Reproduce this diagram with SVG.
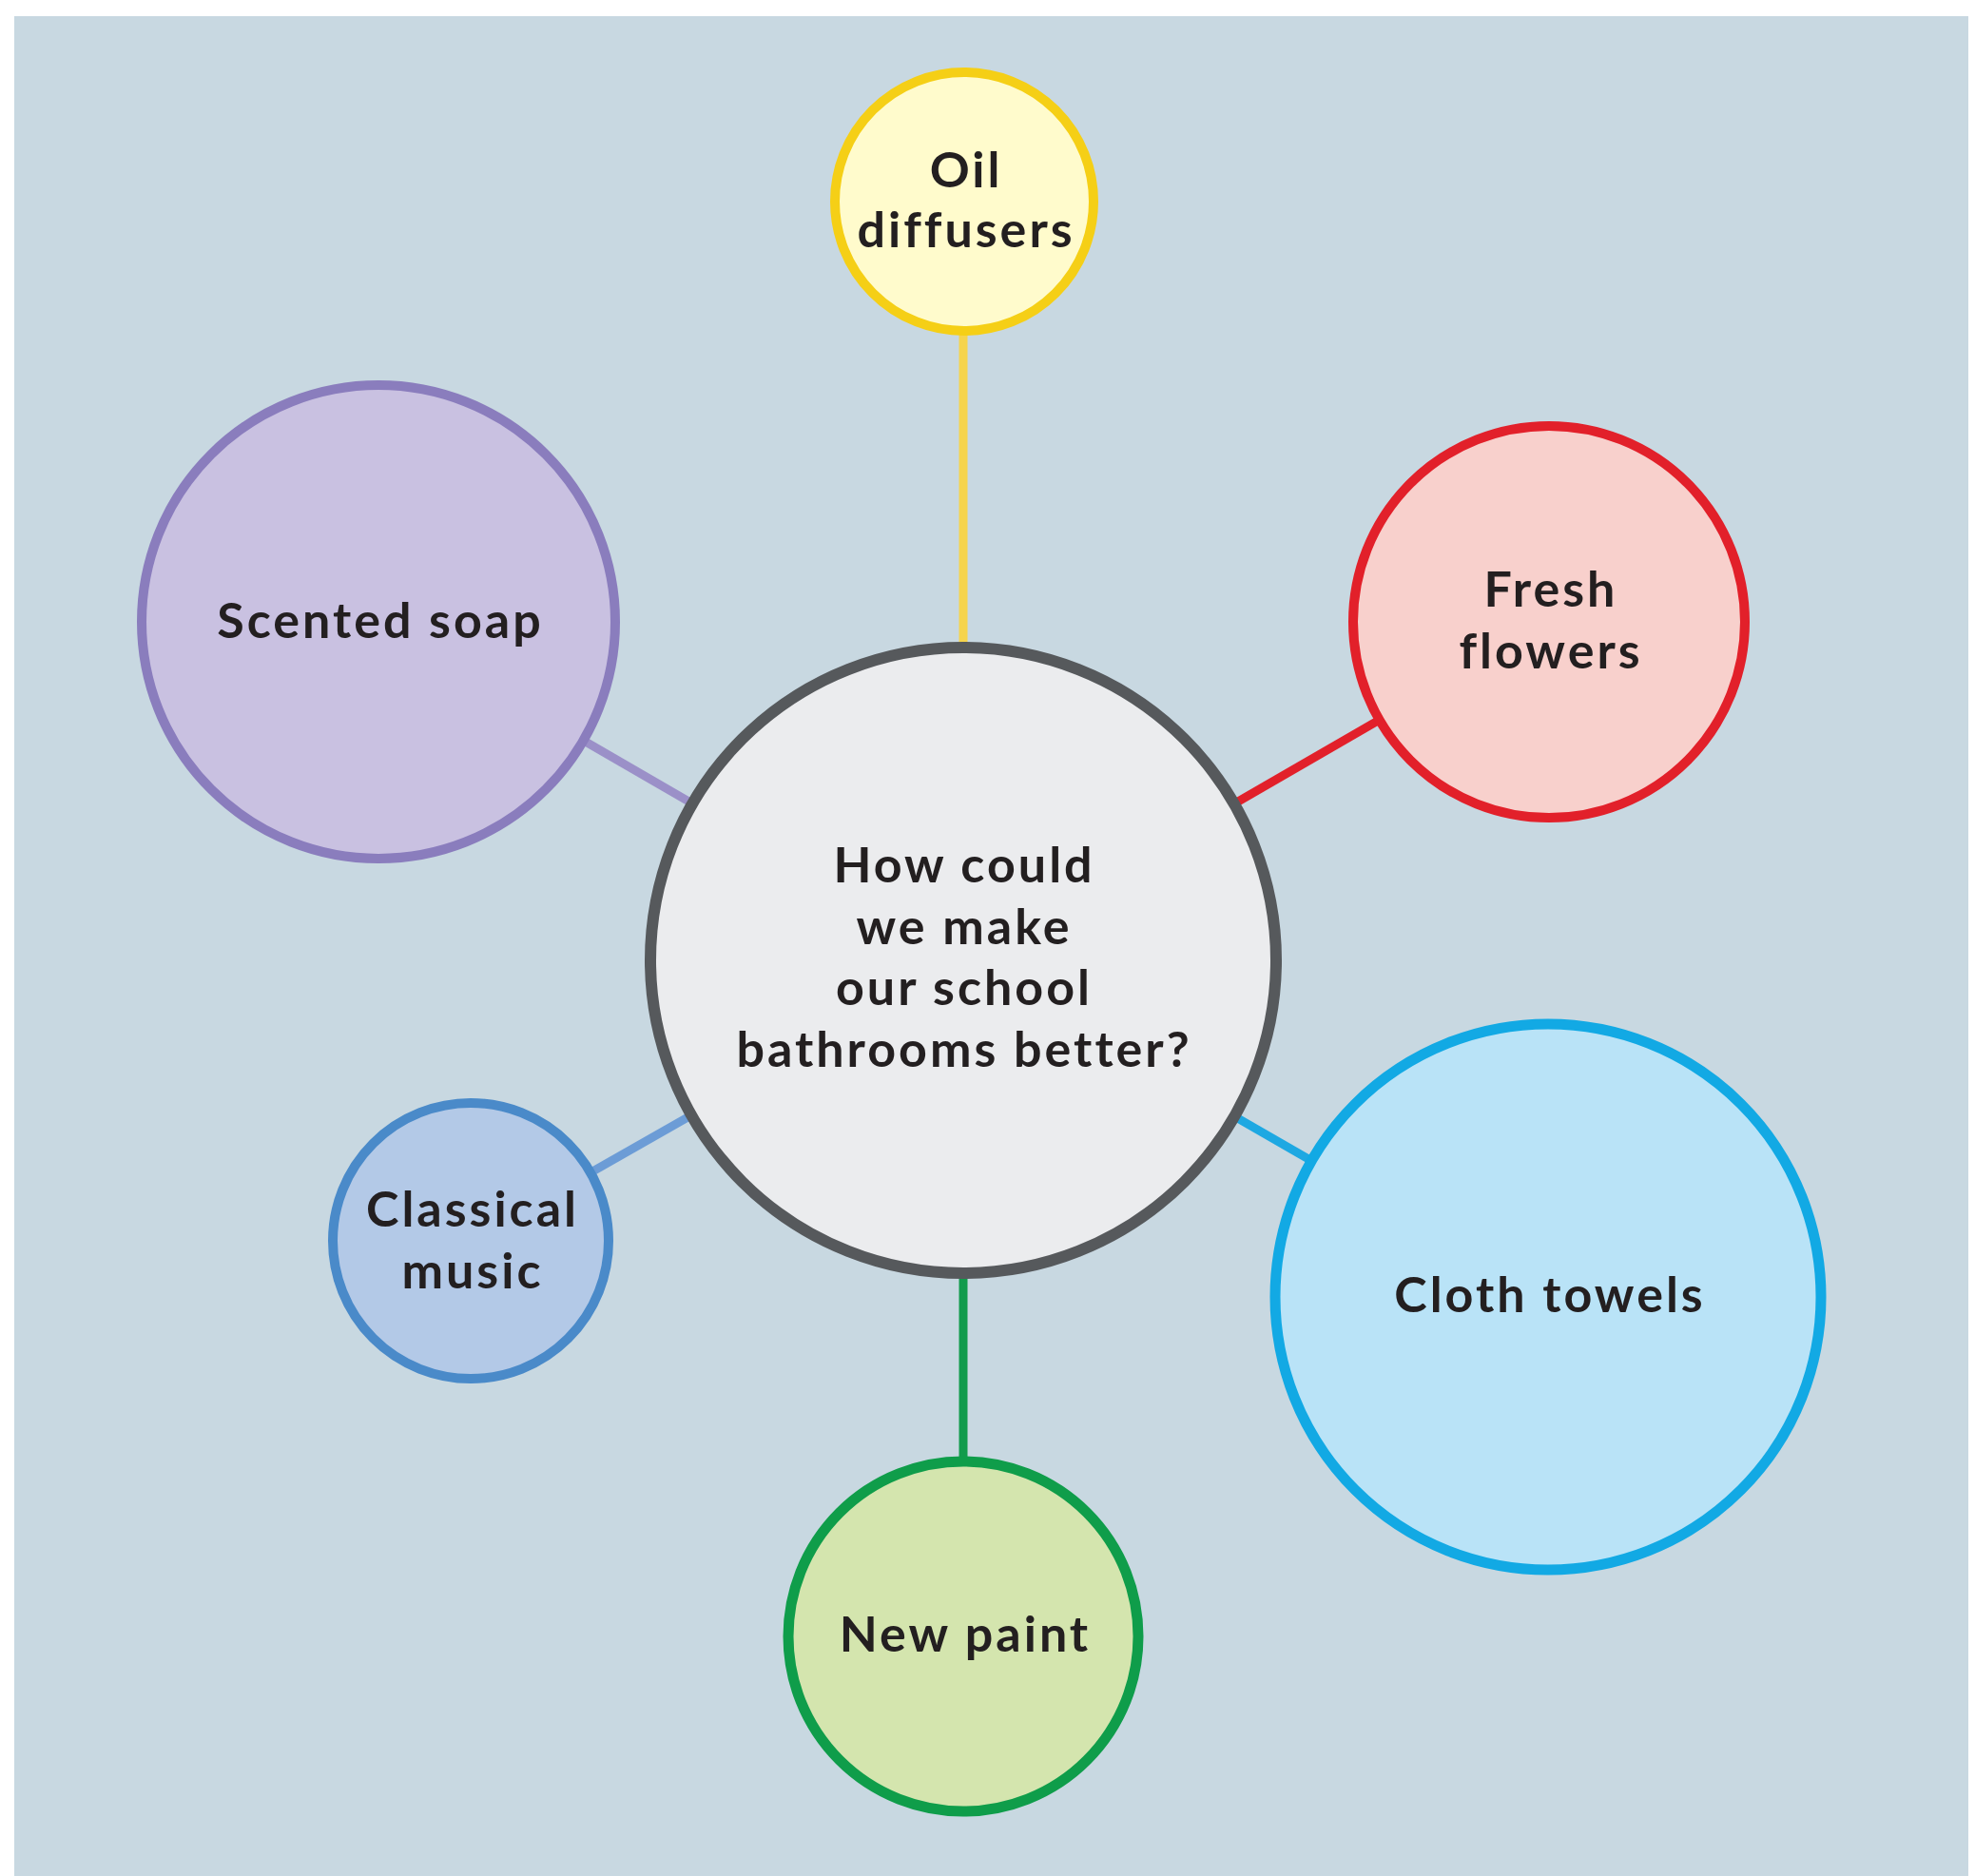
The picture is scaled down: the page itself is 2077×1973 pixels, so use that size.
<svg xmlns="http://www.w3.org/2000/svg" width="2077" height="1973" viewBox="0 0 2077 1973">
<style>
.lbl{font-family:Lato,"Open Sans","Liberation Sans",sans-serif;font-weight:700;font-size:52px;letter-spacing:3px;fill:#231f20;text-anchor:middle}
.con{stroke-width:9;fill:none}
</style>
<rect x="0" y="0" width="2077" height="1973" fill="#ffffff"/>
<rect x="15" y="17" width="2055" height="1956" fill="#c8d8e1"/>
<g id="connectors">
<line class="con" x1="1013" y1="212" x2="1013" y2="1010" stroke="#f6d44c"/>
<line class="con" x1="1013" y1="1010" x2="1629" y2="654" stroke="#e2202a"/>
<line class="con" x1="398" y1="654" x2="1013" y2="1010" stroke="#9b90c8"/>
<line class="con" x1="495" y1="1305" x2="1013" y2="1010" stroke="#6c9cd6"/>
<line class="con" x1="1013" y1="1010" x2="1628" y2="1364" stroke="#1ea8e2"/>
<line class="con" x1="1013" y1="1010" x2="1013" y2="1721" stroke="#129b4c"/>
</g>
<g id="center">
<circle cx="1013" cy="1010" r="329" fill="#ebecee" stroke="#56595c" stroke-width="12"/>
<text class="lbl" x="1014" y="928">How could</text>
<text class="lbl" x="1014" y="993">we make</text>
<text class="lbl" x="1014" y="1057">our school</text>
<text class="lbl" x="1014" y="1122">bathrooms better?</text>
</g>
<g id="oil-diffusers">
<circle cx="1014" cy="212" r="136" fill="#fffbcc" stroke="#f5cf16" stroke-width="10"/>
<text class="lbl" x="1016" y="197">Oil</text>
<text class="lbl" x="1016" y="260">diffusers</text>
</g>
<g id="scented-soap">
<circle cx="398" cy="654" r="249" fill="#c9c1e1" stroke="#8a7dbd" stroke-width="10"/>
<text class="lbl" x="400" y="671">Scented soap</text>
</g>
<g id="fresh-flowers">
<circle cx="1629" cy="654" r="206" fill="#f8d0cc" stroke="#e2202a" stroke-width="10"/>
<text class="lbl" x="1631" y="638">Fresh</text>
<text class="lbl" x="1631" y="703">flowers</text>
</g>
<g id="cloth-towels">
<circle cx="1628" cy="1364" r="287" fill="#b9e3f7" stroke="#12a9e4" stroke-width="11"/>
<text class="lbl" x="1630" y="1380">Cloth towels</text>
</g>
<g id="new-paint">
<circle cx="1013" cy="1721" r="184" fill="#d4e5ae" stroke="#0f9d4a" stroke-width="11"/>
<text class="lbl" x="1015" y="1737">New paint</text>
</g>
<g id="classical-music">
<circle cx="495" cy="1305" r="145" fill="#b3c9e7" stroke="#4a8ac9" stroke-width="10"/>
<text class="lbl" x="497" y="1290">Classical</text>
<text class="lbl" x="497" y="1355">music</text>
</g>
</svg>
